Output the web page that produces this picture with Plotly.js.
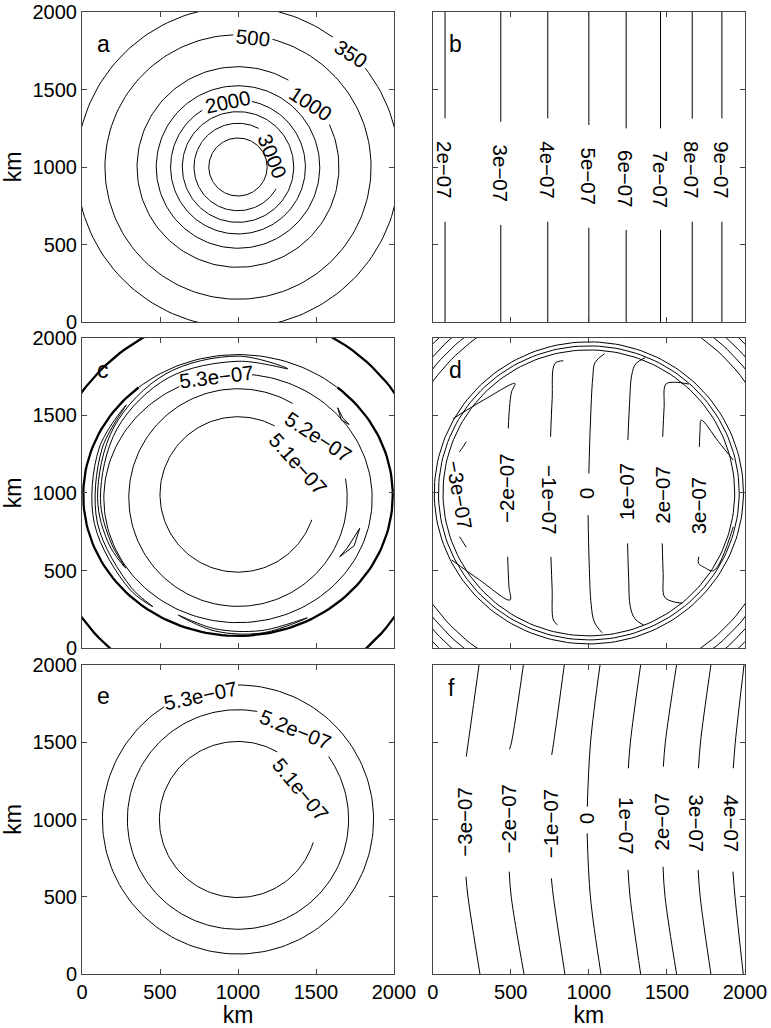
<!DOCTYPE html>
<html><head><meta charset="utf-8">
<script src="https://cdn.plot.ly/plotly-3.0.1.min.js"></script>
<style>html,body{margin:0;padding:0;background:#fff}#chart{width:771px;height:1028px}</style>
</head><body><div id="chart"></div>
<script>
// ================= DATA (km) =================
const kmTicks = [0, 500, 1000, 1500, 2000];
const panelLetters = ['a', 'b', 'c', 'd', 'e', 'f'];
const letterX = [135, 143, 137, 143, 137, 122];
const letterY = [1792, 1792, 1793, 1793, 1795, 1850];

// Panel a: circular contours centred on (1000, 1000)
const aLevels   = [3500, 3000, 2500, 2000, 1500, 1000, 500, 350];
const aRadius   = [187, 282, 357, 432, 524, 647, 853, 1035];
const aGapFrom  = [null, -30, null, 78, null, 25, 75, 38];   // degrees
const aGapTo    = [null, 62, null, 122, null, 60, 92, 54];
const aLabelIdx = [1, 3, 5, 6, 7];
const aLabelX   = [1220, 937, 1466, 1095, 1723];
const aLabelY   = [1066, 1421, 1411, 1837, 1733];
const aLabelAng = [68, -12, 33, 6, 33];

// Panel b: straight contours
const bLevels    = [2e-7, 3e-7, 4e-7, 5e-7, 6e-7, 7e-7, 8e-7, 9e-7];
const bLineX     = [79, 436, 737, 1000, 1239, 1459, 1662, 1852];
const bGapTop    = [1314, 1292, 1314, 1271, 1249, 1249, 1312, 1314];
const bGapBottom = [647, 626, 647, 608, 594, 594, 647, 647];

// Panel c: labelled contours
const cLevels  = [5.1e-7, 5.2e-7, 5.3e-7];
const cCentreX = [1000, 1000, 1000];
const cCentreY = [990, 970, 965];
const cRadX    = [500, 700, 860];
const cRadY    = [500, 700, 800];
const cGapFrom = [-19, 10, 84];
const cGapTo   = [62, 60, 116];
const cLabelX  = [1385, 1513, 862];
const cLabelY  = [1190, 1361, 1747];
const cLabelAng = [48, 33, -7];
// panel c: heavy ring and corner contours
const cRing   = [1000, 985, 992, 905];   // cx, cy, rx, ry
const cCorner = [1000, 923, 1236];       // cx, cy, r
// panel c: filaments (angle deg, outer / inner radius about (1000, 965))
const cFilAngle = [[69, 90, 120, 150, 180, 200, 212], [140, 160, 190, 220, 232], [243, 260, 280, 300]];
const cFilROut  = [[893, 915, 925, 918, 900, 878, 848], [935, 947, 935, 908, 885], [843, 866, 880, 888]];
const cFilRIn   = [[893, 882, 895, 895, 882, 862, 848], [935, 928, 915, 893, 885], [843, 852, 864, 888]];
const cHookX = [[1639, 1662, 1712, 1672, 1639], [1780, 1745, 1652, 1700, 1780]];
const cHookY = [[1548, 1470, 1440, 1482, 1548], [772, 660, 589, 645, 772]];

// Panel d
const dLevels   = [-3e-7, -2e-7, -1e-7, 0, 1e-7, 2e-7, 3e-7];
const dLabelX   = [175, 474, 751, 986, 1242, 1466, 1701];
const dLabelY   = [986, 1030, 954, 997, 1008, 986, 922];
const dLabelAng = [80, -90, 90, -90, -90, -90, -90];
const dUpperX = [[215, 190, 172], [484, 492, 505, 527, 330, 132], [755, 765, 783, 837],
                 [1000, 1010, 1025, 1040, 1100], [1250, 1260, 1275, 1300, 1360],
                 [1473, 1482, 1493, 1550, 1640], [1708, 1712, 1720, 1830, 1925]];
const dUpperY = [[1330, 1290, 1265], [1415, 1550, 1650, 1704, 1600, 1479], [1361, 1600, 1833, 1850],
                 [1125, 1450, 1740, 1840, 1895], [1340, 1560, 1760, 1830, 1870],
                 [1361, 1550, 1700, 1712, 1700], [1297, 1400, 1468, 1330, 1211]];
const dLowerX = [[172, 190, 215], [480, 488, 495, 300, 122], [757, 765, 773, 800],
                 [995, 1002, 1015, 1035, 1085], [1248, 1255, 1265, 1295, 1350],
                 [1470, 1476, 1485, 1540, 1600], [1704, 1702, 1740, 1800, 1925]];
const dLowerY = [[718, 690, 650], [589, 400, 311, 440, 568], [589, 380, 182, 150],
                 [857, 550, 280, 170, 100], [675, 450, 270, 190, 150],
                 [675, 480, 330, 300, 290], [589, 548, 520, 500, 782]];
const dRingRx = [990, 963, 934];
const dRingRy = [972, 946, 920];
const dCornerR = [1230, 1280, 1330, 1385];

// Panel e: circular contours centred on (1000, 1000)
const eLevels   = [5.1e-7, 5.2e-7, 5.3e-7];
const eRadius   = [504, 709, 869];
const eGapFrom  = [-17, 35, 90];
const eGapTo    = [60, 80, 123];
const eLabelX   = [1402, 1370, 759];
const eLabelY   = [1192, 1579, 1804];
const eLabelAng = [50, 22, -12];

// Panel f: curved contours (x at given heights)
const fLevels  = [-3e-7, -2e-7, -1e-7, 0, 1e-7, 2e-7, 3e-7, 4e-7];
const fX2000   = [297, 581, 843, 1072, 1332, 1562, 1782, 1994];
const fX1500   = [228, 505, 775, 1011, 1266, 1490, 1715, 1938];
const fGapTopY = [1406, 1453, 1417, 1083, 1331, 1341, 1331, 1331];
const fGapTopX = [215, 492, 762, 990, 1253, 1477, 1702, 1925];
const fGapBotY = [631, 663, 620, 911, 674, 695, 674, 663];
const fGapBotX = [213, 490, 760, 989, 1251, 1475, 1700, 1923];
const fX500    = [226, 503, 773, 1010, 1264, 1488, 1713, 1936];
const fX0      = [303, 585, 847, 1078, 1332, 1562, 1782, 1989];
const fLabelX  = [207, 484, 751, 986, 1242, 1467, 1691, 1915];
const fLabelY  = [986, 1008, 975, 1008, 960, 986, 975, 975];
const fLabelAng = [-90, -90, -90, -90, 90, -90, 90, 90];

// ================= DRAWING =================
const FONT = '"Liberation Sans", Arial, Helvetica, sans-serif';
const LABEL_SIZE = 20.5;
function fmt(v) {
  if (v === 0) return '0';
  const e = Math.floor(Math.log10(Math.abs(v)) + 1e-9);
  const m = Math.round(v / Math.pow(10, e) * 10) / 10;
  return (m < 0 ? '\u2212' : '') + Math.abs(m) + 'e\u22120' + (-e);
}
function arc(cx, cy, rx, ry, a0, a1) {
  const xs = [], ys = [];
  const n = Math.max(2, Math.ceil(Math.abs(a1 - a0) / 2));
  for (let i = 0; i <= n; i++) {
    const t = (a0 + (a1 - a0) * i / n) * Math.PI / 180;
    xs.push(cx + rx * Math.cos(t)); ys.push(cy + ry * Math.sin(t));
  }
  return [xs, ys];
}
function newAcc() { return {x: [], y: []}; }
function add(acc, xs, ys) {
  if (acc.x.length) { acc.x.push(null); acc.y.push(null); }
  acc.x.push(...xs); acc.y.push(...ys);
}
function addArc(acc, a) { add(acc, a[0], a[1]); }
const traces = [];
const annotations = [];
function sfx(p) { return p === 1 ? '' : String(p); }
function pushTrace(p, acc, width, shape) {
  traces.push({type: 'scatter', mode: 'lines', x: acc.x, y: acc.y,
    xaxis: 'x' + sfx(p), yaxis: 'y' + sfx(p), connectgaps: false, hoverinfo: 'skip',
    line: {color: '#000', width: width, shape: shape || 'linear', smoothing: 1}});
}
function label(p, x, y, text, angle, size) {
  annotations.push({xref: 'x' + sfx(p), yref: 'y' + sfx(p), x: x, y: y, text: text,
    textangle: angle, showarrow: false, xanchor: 'center', yanchor: 'middle',
    font: {family: FONT, size: size || LABEL_SIZE, color: '#000'}});
}

// ---- a ----
(function () {
  const acc = newAcc();
  aRadius.forEach((r, i) => {
    if (aGapFrom[i] === null) addArc(acc, arc(1000, 1000, r, r, 0, 360));
    else addArc(acc, arc(1000, 1000, r, r, aGapTo[i], aGapFrom[i] + 360));
  });
  pushTrace(1, acc, 1);
  aLabelIdx.forEach((k, j) => label(1, aLabelX[j], aLabelY[j], String(aLevels[k]), aLabelAng[j]));
})();

// ---- b ----
(function () {
  const acc = newAcc();
  bLineX.forEach((x, i) => {
    add(acc, [x, x], [2000, bGapTop[i]]);
    add(acc, [x, x], [bGapBottom[i], 0]);
    label(2, x, (bGapTop[i] + bGapBottom[i]) / 2, fmt(bLevels[i]), 90);
  });
  pushTrace(2, acc, 1);
})();

// ---- c ----
(function () {
  const thin = newAcc(), thick = newAcc(), spl = newAcc(), hooks = newAcc();
  cLevels.forEach((v, i) => {
    addArc(thin, arc(cCentreX[i], cCentreY[i], cRadX[i], cRadY[i], cGapTo[i], cGapFrom[i] + 360));
    label(3, cLabelX[i], cLabelY[i], fmt(v), cLabelAng[i]);
  });
  addArc(thick, arc(cRing[0], cRing[1], cRing[2], cRing[3], 130, 410));
  addArc(thin, arc(cRing[0], cRing[1], cRing[2], cRing[3], 50, 130));
  addArc(thick, arc(cCorner[0], cCorner[1], cCorner[2], cCorner[2], 0, 360));
  cFilAngle.forEach((angs, k) => {
    const xs = [], ys = [];
    angs.forEach((a, j) => { const t = a * Math.PI / 180; xs.push(1000 + cFilROut[k][j] * Math.cos(t)); ys.push(965 + cFilROut[k][j] * Math.sin(t)); });
    for (let j = angs.length - 2; j >= 0; j--) { const t = angs[j] * Math.PI / 180; xs.push(1000 + cFilRIn[k][j] * Math.cos(t)); ys.push(965 + cFilRIn[k][j] * Math.sin(t)); }
    add(spl, xs, ys);
  });
  cHookX.forEach((hx, k) => add(hooks, hx, cHookY[k]));
  pushTrace(3, thin, 1);
  pushTrace(3, thick, 2.3);
  pushTrace(3, spl, 1, 'spline');
  pushTrace(3, hooks, 1);
})();

// ---- d ----
(function () {
  const thin = newAcc(), spl = newAcc();
  dRingRx.forEach((rx, i) => addArc(thin, arc(1000, 1000, rx, dRingRy[i], 0, 360)));
  dCornerR.forEach(r => addArc(thin, arc(1000, 1000, r, r, 0, 360)));
  dLevels.forEach((v, i) => {
    add(spl, dUpperX[i], dUpperY[i]);
    add(spl, dLowerX[i], dLowerY[i]);
    label(4, dLabelX[i], dLabelY[i], fmt(v), dLabelAng[i]);
  });
  pushTrace(4, thin, 1);
  pushTrace(4, spl, 1, 'spline');
})();

// ---- e ----
(function () {
  const acc = newAcc();
  eRadius.forEach((r, i) => {
    addArc(acc, arc(1000, 1000, r, r, eGapTo[i], eGapFrom[i] + 360));
    label(5, eLabelX[i], eLabelY[i], fmt(eLevels[i]), eLabelAng[i]);
  });
  pushTrace(5, acc, 1);
})();

// ---- f ----
(function () {
  const spl = newAcc();
  fLevels.forEach((v, i) => {
    add(spl, [fX2000[i], fX1500[i], fGapTopX[i]], [2000, 1500, fGapTopY[i]]);
    add(spl, [fGapBotX[i], fX500[i], fX0[i]], [fGapBotY[i], 500, 0]);
    label(6, fLabelX[i], fLabelY[i], fmt(v), fLabelAng[i]);
  });
  pushTrace(6, spl, 1, 'spline');
})();

panelLetters.forEach((t, i) => label(i + 1, letterX[i], letterY[i], t, 0, 23));

// ---- layout ----
const colDom = [[82 / 771, 394 / 771], [432.7 / 771, 745 / 771]];
const rowDom = [[1 - 322 / 1028, 1 - 12 / 1028], [1 - 648.3 / 1028, 1 - 337.5 / 1028], [1 - 974.3 / 1028, 1 - 664.7 / 1028]];
function axis(domain, anchor, showLabels, title) {
  const a = {domain: domain, anchor: anchor, range: [0, 2000], tickvals: kmTicks,
    ticktext: kmTicks.map(String), ticks: 'inside', ticklen: 5, tickwidth: 1, tickcolor: '#444',
    showline: true, linewidth: 1, linecolor: '#444', mirror: 'allticks', showgrid: false,
    zeroline: false, showticklabels: showLabels, fixedrange: true,
    tickfont: {family: FONT, size: 20, color: '#000'}};
  if (title) a.title = {text: title, font: {family: FONT, size: 23, color: '#000'}, standoff: 4};
  return a;
}
const layout = {width: 771, height: 1028, margin: {l: 0, r: 0, t: 0, b: 0},
  paper_bgcolor: '#fff', plot_bgcolor: '#fff', showlegend: false,
  font: {family: FONT, color: '#000'}, annotations: annotations};
for (let p = 1; p <= 6; p++) {
  const col = (p - 1) % 2, row = Math.floor((p - 1) / 2);
  const s = sfx(p);
  layout['xaxis' + s] = axis(colDom[col], 'y' + s, row === 2, row === 2 ? 'km' : null);
  layout['yaxis' + s] = axis(rowDom[row], 'x' + s, col === 0, col === 0 ? 'km' : null);
}
Plotly.newPlot('chart', traces, layout, {staticPlot: true, displayModeBar: false});
</script>
</body></html>
